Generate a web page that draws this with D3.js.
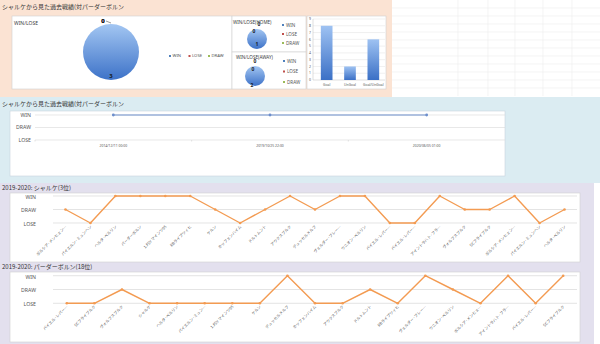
<!DOCTYPE html>
<html><head><meta charset="utf-8">
<script src="https://cdn.jsdelivr.net/npm/d3@7"></script>
<style>
html,body{margin:0;padding:0;background:#fff;}
svg{display:block;font-family:"Noto Sans CJK JP","Noto Sans",sans-serif;}
</style></head>
<body><svg id="c" width="600" height="344"></svg>
<script>
// ---------- data ----------
const pieCategories = ["WIN", "LOSE", "DRAW"];
const totalValues = [3, 0, 0];
const homeValues = [1, 0, 0];
const awayValues = [2, 0, 0];
const goalCategories = ["Goal", "UnGoal", "Goal/UnGoal"];
const goalValues = [8, 2, 6];
const goalTicks = [0, 1, 2, 3, 4, 5, 6, 7, 8, 9];
const resultLevels = ["LOSE", "DRAW", "WIN"];
const h2hDates = ["2014/12/11 00:00", "2019/10/25 22:00", "2020/06/05 01:00"];
const h2hResults = ["WIN", "WIN", "WIN"];
const schalkeOpponents = ["ボルシア·メンヒェン…", "バイエルン·ミュンヘン", "ヘルタ·ベルリン", "パーダーボルン", "1.FSV マインツ05", "RBライプツィヒ", "ケルン", "ホッフェンハイム", "ドルトムント", "アウクスブルク", "デュッセルドルフ", "ヴェルダー·ブレー…", "ウニオン·ベルリン", "バイエル·レバー…", "バイエル·レバー…", "アイントラハト·フラ…", "ヴォルフスブルク", "SCフライブルク", "ボルシア·メンヒェン…", "バイエルン·ミュンヘン", "ヘルタ·ベルリン"];
const schalkeResults = ["DRAW", "LOSE", "WIN", "WIN", "WIN", "WIN", "DRAW", "LOSE", "DRAW", "WIN", "DRAW", "WIN", "WIN", "LOSE", "LOSE", "WIN", "DRAW", "DRAW", "WIN", "LOSE", "DRAW"];
const paderbornOpponents = ["バイエル·レバー…", "SCフライブルク", "ヴォルフスブルク", "シャルケ", "ヘルタ·ベルリン", "バイエルン·ミュン…", "1.FSV マインツ05", "ケルン", "デュッセルドルフ", "ホッフェンハイム", "アウクスブルク", "ドルトムント", "RBライプツィヒ", "ヴェルダー·ブレー…", "ウニオン·ベルリン", "ボルシア·メンヒェ…", "アイントラハト·フラ…", "バイエル·レバー…", "SCフライブルク"];
const paderbornResults = ["LOSE", "LOSE", "DRAW", "LOSE", "LOSE", "LOSE", "LOSE", "LOSE", "WIN", "LOSE", "LOSE", "DRAW", "LOSE", "WIN", "DRAW", "LOSE", "WIN", "LOSE", "WIN"];
const titles = ["シャルケから見た過去戦績(対パーダーボルン", "シャルケから見た過去戦績(対パーダーボルン", "2019-2020: シャルケ(3位)", "2019-2020: パーダーボルン(18位)"];

// ---------- drawing ----------
const svg = d3.select("#c");
const defs = svg.append("defs");
const pg = defs.append("linearGradient").attr("id", "pieGrad").attr("x1", 0).attr("y1", 0).attr("x2", 0).attr("y2", 1);
pg.append("stop").attr("offset", "0%").attr("stop-color", "#a3c6f2");
pg.append("stop").attr("offset", "100%").attr("stop-color", "#3d72c8");
const bg = defs.append("linearGradient").attr("id", "barGrad").attr("x1", 0).attr("y1", 0).attr("x2", 0).attr("y2", 1);
bg.append("stop").attr("offset", "0%").attr("stop-color", "#9ec2f2");
bg.append("stop").attr("offset", "100%").attr("stop-color", "#3b70c6");

// backgrounds
svg.append("rect").attr("x", 0).attr("y", 0).attr("width", 600).attr("height", 344).attr("fill", "#ffffff");
const gridG = svg.append("g").attr("stroke", "#ececec").attr("stroke-width", 0.6);
d3.range(8, 96, 8).forEach(v => gridG.append("line").attr("x1", 392).attr("x2", 600).attr("y1", v).attr("y2", v));
[458, 488, 515, 543, 572].forEach(v => gridG.append("line").attr("x1", v).attr("x2", v).attr("y1", 0).attr("y2", 96));
svg.append("rect").attr("x", 0).attr("y", 0).attr("width", 392).attr("height", 97).attr("fill", "#fbe3d3");
svg.append("rect").attr("x", 0).attr("y", 97).attr("width", 600).attr("height", 86).attr("fill", "#dbecf2");
svg.append("rect").attr("x", 0).attr("y", 183).attr("width", 594).attr("height", 161).attr("fill", "#e3e0ee");

// titles
const titlePos = [[2, 9], [2, 106], [2, 190], [2, 269]];
titles.forEach((t, i) => svg.append("text").attr("x", titlePos[i][0]).attr("y", titlePos[i][1])
  .attr("font-size", 6).attr("fill", "#333").text(t));

function panel(x, y, w, h, stroke) {
  svg.append("rect").attr("x", x).attr("y", y).attr("width", w).attr("height", h)
    .attr("fill", "#fff").attr("stroke", stroke || "#d0d0d0").attr("stroke-width", 0.6);
}
panel(12, 16, 220, 73);
panel(232, 16, 74, 36);
panel(232, 52, 74, 37);
panel(307, 16, 79, 73);

const legendColors = d3.scaleOrdinal().domain(pieCategories).range(["#4f81bd", "#c0504d", "#9bbb59"]);
const labelFont = "'Noto Sans','DejaVu Sans',sans-serif";

function drawPie(cx, cy, r, values, labelR, labelDx, fs) {
  const pie = d3.pie().sort(null).value(d => d)(values);
  const g = svg.append("g").attr("transform", `translate(${cx},${cy})`);
  g.selectAll("path").data(pie).join("path")
    .attr("d", d3.arc().innerRadius(0).outerRadius(r))
    .attr("fill", "url(#pieGrad)");
  pie.forEach((d, i) => {
    const lr = r * labelR[i];
    const a = d.value === 0 ? d.startAngle : (d.startAngle + d.endAngle) / 2;
    const px = Math.sin(a) * lr + labelDx[i], py = -Math.cos(a) * lr;
    g.append("text").attr("x", px).attr("y", py).attr("dy", "0.35em")
      .attr("text-anchor", "middle").attr("font-size", fs).attr("font-weight", "bold")
      .attr("font-family", labelFont).attr("fill", "#1a1a1a").text(values[i]);
  });
  return g;
}
// main pie
const mainPie = drawPie(111, 52, 28, totalValues, [0.85, 1.12, 1.12], [0, -8, -8], 6);
mainPie.append("line").attr("x1", -5).attr("y1", -31).attr("x2", 0).attr("y2", -29).attr("stroke", "#333").attr("stroke-width", 0.5);
svg.append("text").attr("x", 14).attr("y", 25).attr("font-size", 5).attr("font-family", labelFont).attr("fill", "#404040").text("WIN/LOSE");
const legX = d3.scalePoint().domain(pieCategories).range([170, 209]);
pieCategories.forEach(c => {
  svg.append("rect").attr("x", legX(c) - 1).attr("y", 55).attr("width", 2).attr("height", 2).attr("fill", legendColors(c));
  svg.append("text").attr("x", legX(c) + 2.5).attr("y", 56).attr("dy", "0.35em").attr("font-size", 4.2)
    .attr("font-family", labelFont).attr("fill", "#555").text(c);
});
// home / away pies
drawPie(257, 39, 10, homeValues, [0.5, 1.5, 0.8], [0, 2, -3], 5);
drawPie(255, 76, 10, awayValues, [0.9, 1.5, 0.7], [-3, 0, -2], 5);
svg.append("text").attr("x", 233).attr("y", 24).attr("font-size", 4.6).attr("font-family", labelFont).attr("fill", "#404040").text("WIN/LOSE(HOME)");
svg.append("text").attr("x", 236).attr("y", 59).attr("font-size", 4.6).attr("font-family", labelFont).attr("fill", "#404040").text("WIN/LOSE(AWAY)");
function vLegend(x, y0, y1) {
  const ly = d3.scalePoint().domain(pieCategories).range([y0, y1]);
  pieCategories.forEach(c => {
    svg.append("rect").attr("x", x - 1).attr("y", ly(c) - 1).attr("width", 2).attr("height", 2).attr("fill", legendColors(c));
    svg.append("text").attr("x", x + 3).attr("y", ly(c)).attr("dy", "0.35em").attr("font-size", 4.6)
      .attr("font-family", labelFont).attr("fill", "#555").text(c);
  });
}
vLegend(283, 25, 43);
vLegend(284, 61, 82);

// bar chart
const by = d3.scaleLinear().domain([0, 9]).range([80, 19]);
const bx = d3.scaleBand().domain(goalCategories).range([315, 385]).paddingInner(0.5).paddingOuter(0.25);
const barG = svg.append("g");
goalTicks.forEach(t => {
  barG.append("line").attr("x1", 313).attr("x2", 385).attr("y1", by(t)).attr("y2", by(t))
    .attr("stroke", t === 0 ? "#bfbfbf" : "#e0e0e0").attr("stroke-width", 0.5);
  barG.append("text").attr("x", 311).attr("y", by(t)).attr("dy", "0.35em").attr("text-anchor", "end")
    .attr("font-size", 3.4).attr("font-family", labelFont).attr("fill", "#555").text(t);
});
barG.append("line").attr("x1", 313).attr("x2", 313).attr("y1", by(9)).attr("y2", by(0)).attr("stroke", "#bfbfbf").attr("stroke-width", 0.5);
barG.selectAll("rect.bar").data(goalValues).join("rect").attr("class", "bar")
  .attr("x", (d, i) => bx(goalCategories[i])).attr("width", bx.bandwidth())
  .attr("y", d => by(d)).attr("height", d => by(0) - by(d)).attr("fill", "url(#barGrad)");
goalCategories.forEach(c => barG.append("text").attr("x", bx(c) + bx.bandwidth() / 2).attr("y", 85.5)
  .attr("text-anchor", "middle").attr("font-size", 3.4).attr("font-family", labelFont).attr("fill", "#555").text(c));

// head-to-head timeline
panel(10, 111, 495, 65, "#c8d3dc");
const hy = d3.scalePoint().domain(resultLevels).range([140, 115]);
const hx = d3.scaleBand().domain(h2hDates).range([35, 505]);
const hG = svg.append("g");
resultLevels.forEach(l => {
  hG.append("line").attr("x1", 35).attr("x2", 505).attr("y1", hy(l)).attr("y2", hy(l)).attr("stroke", "#d9d9d9").attr("stroke-width", 0.6);
  hG.append("text").attr("x", 31).attr("y", hy(l)).attr("dy", "0.35em").attr("text-anchor", "end")
    .attr("font-size", 5.2).attr("font-family", labelFont).attr("fill", "#555").text(l);
});
h2hDates.forEach((d, i) => {
  hG.append("line").attr("x1", hx(d)).attr("x2", hx(d)).attr("y1", hy("LOSE")).attr("y2", hy("LOSE") + 1.5).attr("stroke", "#d0d0d0").attr("stroke-width", 0.6);
  hG.append("text").attr("x", hx(d) + hx.bandwidth() / 2).attr("y", 147).attr("text-anchor", "middle")
    .attr("font-size", 3.4).attr("font-family", labelFont).attr("fill", "#555").text(d);
});
hG.append("path").datum(h2hResults)
  .attr("d", d3.line().x((d, i) => hx(h2hDates[i]) + hx.bandwidth() / 2).y(d => hy(d)))
  .attr("fill", "none").attr("stroke", "#6d8fcc").attr("stroke-width", 1);
hG.selectAll("circle").data(h2hResults).join("circle")
  .attr("cx", (d, i) => hx(h2hDates[i]) + hx.bandwidth() / 2).attr("cy", d => hy(d)).attr("r", 1.4).attr("fill", "#6d8fcc");

// season charts
function seasonChart(top, yWin, yLose, opponents, results, labelY) {
  panel(10, top, 570, (labelY + 35) - top, "#cfcfcf");
  const y = d3.scalePoint().domain(resultLevels).range([yLose, yWin]);
  const x = d3.scalePoint().domain(d3.range(results.length)).range([53, 577]).padding(0.5);
  const g = svg.append("g");
  resultLevels.forEach(l => {
    g.append("line").attr("x1", 53).attr("x2", 577).attr("y1", y(l)).attr("y2", y(l)).attr("stroke", "#d9d9d9").attr("stroke-width", 0.7);
    g.append("text").attr("x", 36).attr("y", y(l) + 1).attr("dy", "0.35em").attr("text-anchor", "end")
      .attr("font-size", 5.2).attr("font-family", labelFont).attr("fill", "#555").text(l);
  });
  g.append("path").datum(results)
    .attr("d", d3.line().x((d, i) => x(i)).y(d => y(d)))
    .attr("fill", "none").attr("stroke", "#f39b52").attr("stroke-width", 1.4).attr("stroke-linejoin", "round");
  g.selectAll("circle").data(results).join("circle")
    .attr("cx", (d, i) => x(i)).attr("cy", d => y(d)).attr("r", 1.3).attr("fill", "#f39b52");
  opponents.forEach((o, i) => {
    g.append("text").attr("transform", `translate(${x(i) + 1.5},${labelY}) rotate(-45)`)
      .attr("text-anchor", "end").attr("font-size", 3.9).attr("fill", "#555").text(o);
  });
}
seasonChart(193, 196, 223, schalkeOpponents, schalkeResults, 227);
seasonChart(272, 275.7, 303.3, paderbornOpponents, paderbornResults, 307);
</script></body></html>
